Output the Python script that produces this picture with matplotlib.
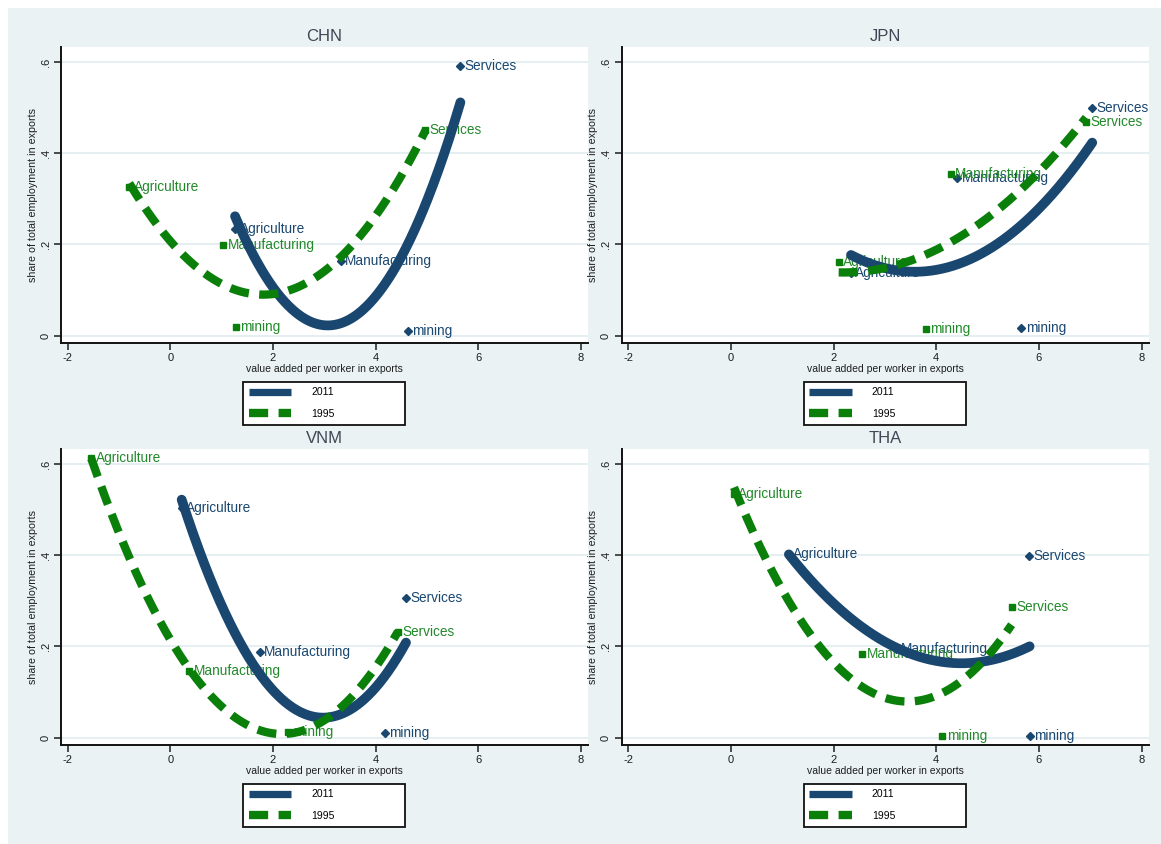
import matplotlib
matplotlib.use("Agg")
import matplotlib.pyplot as plt
import numpy as np
from matplotlib.patches import Rectangle
from matplotlib.legend_handler import HandlerLine2D

plt.rcParams["font.family"] = ["Liberation Sans", "DejaVu Sans"]

# Sectors, in the same order as the value lists below
sectors = ["Agriculture", "Manufacturing", "Services", "mining"]

# Value added per worker in exports (x) and share of total employment in exports (y)
chn_x_2011 = [1.26, 3.32, 5.65, 4.62]
chn_y_2011 = [0.234, 0.163, 0.592, 0.011]
chn_x_1995 = [-0.80, 1.03, 4.97, 1.28]
chn_y_1995 = [0.327, 0.199, 0.452, 0.018]

jpn_x_2011 = [2.34, 4.41, 7.04, 5.66]
jpn_y_2011 = [0.137, 0.346, 0.499, 0.017]
jpn_x_1995 = [2.10, 4.28, 6.92, 3.80]
jpn_y_1995 = [0.162, 0.355, 0.468, 0.015]

vnm_x_2011 = [0.22, 1.74, 4.59, 4.18]
vnm_y_2011 = [0.503, 0.187, 0.306, 0.010]
vnm_x_1995 = [-1.54, 0.37, 4.43, 2.30]
vnm_y_1995 = [0.613, 0.147, 0.231, 0.012]

tha_x_2011 = [1.13, 3.22, 5.80, 5.82]
tha_y_2011 = [0.403, 0.194, 0.399, 0.003]
tha_x_1995 = [0.06, 2.56, 5.47, 4.12]
tha_y_1995 = [0.534, 0.183, 0.286, 0.003]

countries = ["CHN", "JPN", "VNM", "THA"]
years = ["2011", "1995"]

x_ticks = [-2, 0, 2, 4, 6, 8]
x_tick_labels = ["-2", "0", "2", "4", "6", "8"]
y_ticks = [0, 0.2, 0.4, 0.6]
y_tick_labels = ["0", ".2", ".4", ".6"]

panel_data = {
    "CHN": ((chn_x_2011, chn_y_2011), (chn_x_1995, chn_y_1995)),
    "JPN": ((jpn_x_2011, jpn_y_2011), (jpn_x_1995, jpn_y_1995)),
    "VNM": ((vnm_x_2011, vnm_y_2011), (vnm_x_1995, vnm_y_1995)),
    "THA": ((tha_x_2011, tha_y_2011), (tha_x_1995, tha_y_1995)),
}

NAVY = "#1a476f"
GREEN = "#0a800a"
GREEN_TEXT = "#22892a"
BG = "#eaf2f3"
GRID = "#e3edef"
TITLE = "#3f4757"

W, H = 1161, 844
fig = plt.figure(figsize=(W / 100, H / 100), dpi=100)
fig.patch.set_facecolor("white")
fig.patches.append(Rectangle((8 / W, 0), 1 - 8 / W, 1 - 8 / H,
                             transform=fig.transFigure, facecolor=BG,
                             edgecolor="none", zorder=-10))

PW, PH = 527, 296
panel_origin = {"CHN": (61, 47), "JPN": (621.5, 47),
                "VNM": (61, 449), "THA": (621.5, 449)}


def rect(left, top, w, h):
    return [left / W, 1 - (top + h) / H, w / W, h / H]


def legend_line(handle, orig):
    # key lines are a little thinner than the plotted fits, with square ends
    handle.update_from(orig)
    handle.set_linewidth(orig.get_linewidth() * (0.75 if orig.get_label() == "2011" else 1.0))
    handle.set_solid_capstyle("butt")


def draw_panel(name):
    left, top = panel_origin[name]
    ax = fig.add_axes(rect(left, top, PW, PH))
    ax.set_facecolor("white")
    ax.set_xlim(-2.131, 8.136)
    ax.set_ylim(-0.016, 0.633)

    series_styles = [
        dict(color=NAVY, text=NAVY, marker="D", ms=3.6),
        dict(color=GREEN, text=GREEN_TEXT, marker="s", ms=5.0),
    ]
    lines = []
    for (xs, ys), st in zip(panel_data[name], series_styles):
        ax.plot(xs, ys, linestyle="none", marker=st["marker"], ms=st["ms"],
                color=st["color"], mec=st["color"], zorder=3)
        for s, x, y in zip(sectors, xs, ys):
            ax.annotate(s, (x, y), xytext=(3.2, 0), textcoords="offset points",
                        ha="left", va="center", fontsize=9.8,
                        color=st["text"], zorder=3)

    # quadratic fit of each year's sector points
    for i, ((xs, ys), st) in enumerate(zip(panel_data[name], series_styles)):
        coef = np.polyfit(xs, ys, 2)
        gx = np.linspace(min(xs), max(xs), 300)
        gy = np.polyval(coef, gx)
        if i == 0:
            ln, = ax.plot(gx, gy, color=st["color"], lw=7.0,
                          solid_capstyle="round", zorder=4, label=years[i])
        else:
            ln, = ax.plot(gx, gy, color=st["color"], lw=6.0,
                          dashes=(2.3, 1.25), dash_capstyle="butt",
                          zorder=5, label=years[i])
        lines.append(ln)

    ax.set_xticks(x_ticks)
    ax.set_xticklabels(x_tick_labels)
    ax.set_yticks(y_ticks)
    ax.set_yticklabels(y_tick_labels, rotation=90, va="center")
    ax.tick_params(axis="both", labelsize=8, length=5, width=1.1,
                   colors="#1e1e1e", pad=2.5)
    ax.yaxis.grid(True, color=GRID, lw=1.3)
    ax.set_axisbelow(True)
    for side in ("top", "right"):
        ax.spines[side].set_visible(False)
    for side in ("left", "bottom"):
        ax.spines[side].set_linewidth(1.4)
        ax.spines[side].set_color("#111111")

    ax.set_title(name, fontsize=12, color=TITLE, pad=4.5)
    ax.set_xlabel("value added per worker in exports", fontsize=7.5,
                  labelpad=0.5, color="#1e1e1e")
    ax.set_ylabel("share of total employment in exports", fontsize=7.7,
                  labelpad=2, color="#1e1e1e")

    leg = ax.legend(handles=lines, labels=years, loc="upper left",
                    bbox_to_anchor=rect(left + 182, top + 334.7, 162, 45),
                    bbox_transform=fig.transFigure, mode="expand",
                    borderaxespad=0, fontsize=7.5, handlelength=4.1,
                    handletextpad=1.9, labelspacing=1.1, borderpad=0.55,
                    fancybox=False, framealpha=1, edgecolor="#111111",
                    handler_map={ln: HandlerLine2D(update_func=legend_line)
                                 for ln in lines})
    leg.get_frame().set_linewidth(1.3)
    return ax


for c in countries:
    draw_panel(c)

fig.savefig("out.png", dpi=100, facecolor=fig.get_facecolor())
